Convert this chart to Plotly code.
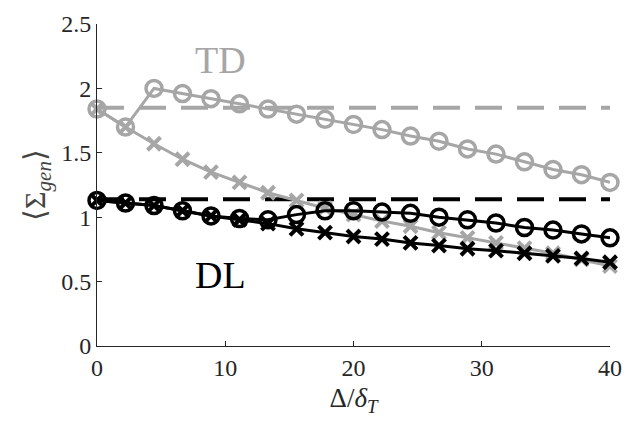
import plotly.graph_objects as go

x_vals = [40 * i / 18 for i in range(19)]

td_circle = [1.84, 1.70, 2.00, 1.96, 1.92, 1.88, 1.84, 1.80, 1.76, 1.72, 1.68, 1.63,
             1.59, 1.53, 1.49, 1.43, 1.37, 1.33, 1.27]
td_cross = [1.84, 1.70, 1.57, 1.45, 1.35, 1.27, 1.19, 1.13, 1.07, 1.02, 0.97, 0.93,
            0.88, 0.84, 0.80, 0.76, 0.72, 0.67, 0.62]
dl_circle = [1.13, 1.11, 1.09, 1.05, 1.01, 0.99, 0.98, 1.02, 1.05, 1.05, 1.04, 1.03,
             1.00, 0.98, 0.955, 0.92, 0.90, 0.87, 0.84]
dl_cross = [1.13, 1.11, 1.09, 1.05, 1.01, 0.98, 0.95, 0.91, 0.88, 0.85, 0.83, 0.80,
            0.78, 0.755, 0.74, 0.72, 0.70, 0.68, 0.65]
td_ref = 1.85
dl_ref = 1.14

x_ticks = [0, 10, 20, 30, 40]
y_ticks = [0, 0.5, 1, 1.5, 2, 2.5]
y_tick_text = ["0", "0.5", "1", "1.5", "2", "2.5"]

GRAY = "#a6a6a6"
BLACK = "#000000"
FONT = "Liberation Serif"

fig = go.Figure()

def add_series(y, color, symbol, size, lw):
    fig.add_trace(go.Scatter(
        x=x_vals, y=y, mode="lines+markers",
        line=dict(color=color, width=3),
        marker=dict(symbol=symbol, size=size, color=color,
                    line=dict(color=color, width=lw)),
        cliponaxis=False, showlegend=False))

# reference dashed lines
fig.add_trace(go.Scatter(x=[0, 40], y=[td_ref, td_ref], mode="lines",
                         line=dict(color=GRAY, width=4, dash="27px,15px"),
                         showlegend=False, cliponaxis=False))
fig.add_trace(go.Scatter(x=[0, 40], y=[dl_ref, dl_ref], mode="lines",
                         line=dict(color=BLACK, width=4, dash="27px,15px"),
                         showlegend=False, cliponaxis=False))

add_series(td_cross, GRAY, "x-thin-open", 13, 4)
add_series(td_circle, GRAY, "circle-open", 16, 3.5)
add_series(dl_cross, BLACK, "x-thin-open", 13, 4)
add_series(dl_circle, BLACK, "circle-open", 16, 3.5)

fig.add_annotation(x=9.6, y=2.22, text="TD", showarrow=False,
                   font=dict(family=FONT, size=38, color=GRAY))
fig.add_annotation(x=9.6, y=0.55, text="DL", showarrow=False,
                   font=dict(family=FONT, size=38, color=BLACK))

axis_common = dict(
    showgrid=False, zeroline=False, showline=True, linecolor="#262626", linewidth=1,
    ticks="inside", ticklen=5, tickcolor="#262626", mirror=False,
    tickfont=dict(family=FONT, size=24, color="#262626"),
    ticklabeloverflow="allow",
)

fig.update_xaxes(range=[0, 40], tickvals=x_ticks,
                 title=dict(text="Δ/<i>δ</i><sub><i>T</i></sub>",
                            font=dict(family=FONT, size=27, color="#262626"), standoff=8),
                 **axis_common)
fig.update_yaxes(range=[0, 2.5], tickvals=y_ticks, ticktext=y_tick_text,
                 title=dict(text="⟨Σ<sub><i>gen</i></sub>⟩",
                            font=dict(family=FONT, size=30, color="#444444"), standoff=6),
                 **axis_common)

fig.update_layout(
    width=633, height=426,
    margin=dict(l=97, r=14, t=11, b=80),
    paper_bgcolor="white", plot_bgcolor="white",
    font=dict(family=FONT, size=24, color="#262626"),
)

fig.write_html("out.html")
